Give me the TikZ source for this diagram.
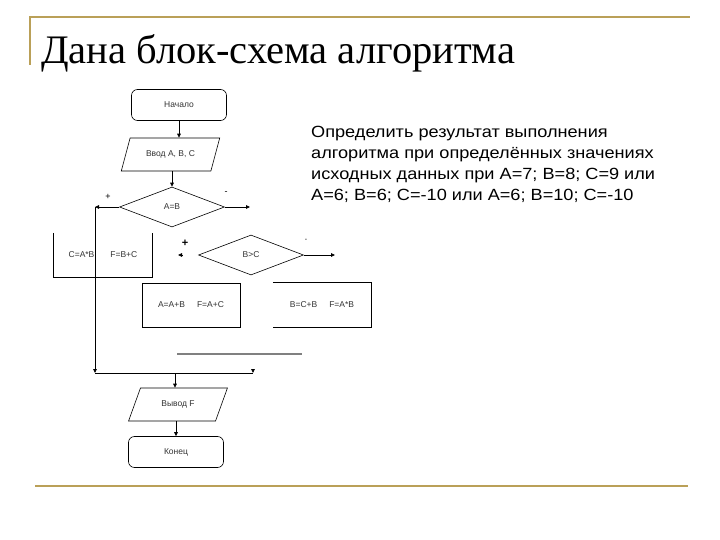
\documentclass[tikz,border=0pt]{standalone}
\usepackage{fontspec}
\setmainfont{Liberation Serif}
\newfontfamily\arialfont{Liberation Sans}
\newfontfamily\widearialfont[FakeStretch=1.12]{Liberation Sans}
\usetikzlibrary{arrows.meta,positioning,shapes.geometric}
\definecolor{slidegold}{RGB}{186,160,88}
\definecolor{flowgray}{RGB}{128,128,128}
\tikzset{
  flowtext/.style={font=\fontsize{8.5}{9}\arialfont,text=black!80},
  termbox/.style={draw,rounded corners=6pt,line width=0.6pt,minimum width=95pt,minimum height=31pt,flowtext},
  iobox/.style={draw,trapezium,trapezium left angle=55,trapezium right angle=125,trapezium stretches=true,
                line width=0.6pt,minimum width=99pt,minimum height=33pt,inner sep=0pt,flowtext},
  decision/.style={draw,diamond,line width=0.6pt,minimum width=105pt,minimum height=40pt,inner sep=0pt,flowtext},
  plainbox/.style={minimum width=98pt,minimum height=44pt,flowtext},
  flowline/.style={line width=0.8pt},
  flowarrow/.style={line width=0.8pt,-{Triangle[length=4pt,width=3.6pt]}},
  signtext/.style={font=\fontsize{9}{9}\arialfont,inner sep=0pt}
}
\begin{document}
\begin{tikzpicture}[x=1pt,y=-1pt]
  \useasboundingbox (0,0) rectangle (720,540);
  %% slide frame
  \draw[slidegold,line width=1.6pt] (30,65) -- (30,17) -- (690,17);
  \draw[slidegold,line width=2.6pt] (35,486) -- (688,486);
  %% title
  \node[font=\fontsize{40.5}{40}\selectfont,anchor=base west,inner sep=0pt] (title) at (41,64)
        {Дана блок-схема алгоритма};
  %% task
  \node[font=\fontsize{16.2}{21}\widearialfont,anchor=north west,align=left,inner sep=0pt] (task) at (311,126)
        {Определить результат выполнения\\
         алгоритма при определённых значениях\\
         исходных данных при A=7; B=8; C=9 или\\
         A=6; B=6; C=-10 или A=6; B=10; C=-10};
  %% flowchart
  \node[termbox] (start) at (179,105) {Начало};
  \node[iobox] (in) at (170.5,154.5) {Ввод A, B, C};
  \node[decision] (ab) at (172,207) {A=B};
  \node[plainbox] (cab) at (103,255) {C=A*B\hspace{16pt}F=B+C};
  \node[decision] (bc) at (251,255) {B>C};
  \node[plainbox,draw,line width=0.8pt] (aab) at (191,305) {A=A+B\hspace{12pt}F=A+C};
  \node[plainbox] (bcb) at (322,305) {B=C+B\hspace{12pt}F=A*B};
  \node[iobox] (out) at (178,404.5) {Вывод F};
  \node[termbox] (end) at (176,452) {Конец};
  %% open boxes
  \draw[flowline] (cab.north west) -- (cab.south west) -- (cab.south east) -- (cab.north east);
  \draw[flowline] (bcb.north west) -- (bcb.north east) -- (bcb.south east) -- (bcb.south west);
  %% branch ends
  \coordinate (yesA) at (95,207);
  \coordinate (noA) at (250,207);
  \coordinate (yesB) at (178,255);
  \coordinate (noB) at (335,255);
  \coordinate (joinL) at (95,373);
  \coordinate (joinM) at (175,373);
  \coordinate (joinR) at (253,373);
  %% signs
  \node[signtext] (plusA) at (108,197) {+};
  \node[signtext] (minusA) at (226,193) {-};
  \node[signtext,font=\fontsize{11}{11}\arialfont\bfseries] (plusB) at (185,243) {+};
  \node[signtext,font=\fontsize{7}{7}\arialfont] (minusB) at (306,240) {-};
  %% connectors
  \draw[flowarrow] (start.south) -- (start.south |- in.north);
  \draw[flowarrow] (ab.north |- in.south) -- (ab.north);
  \draw[flowarrow] (ab.west) -- (yesA);
  \draw[flowarrow] (ab.east) -- (noA);
  \draw[flowarrow] (yesA) -- (joinL);
  \draw[flowline] (joinL) -- (joinR);
  \draw[flowarrow] (joinR) ++(0,-4) -- (joinR);
  \draw[flowarrow] (bc.east) -- (noB);
  \draw[flowarrow] (yesB) ++(4,0) -- (yesB);
  \draw[flowarrow] (joinM) -- (joinM |- out.north);
  \draw[flowarrow] (end.north |- out.south) -- (end.north);
  \draw[flowgray,line width=2pt] (177,354) -- (302,354);
\end{tikzpicture}
\end{document}
